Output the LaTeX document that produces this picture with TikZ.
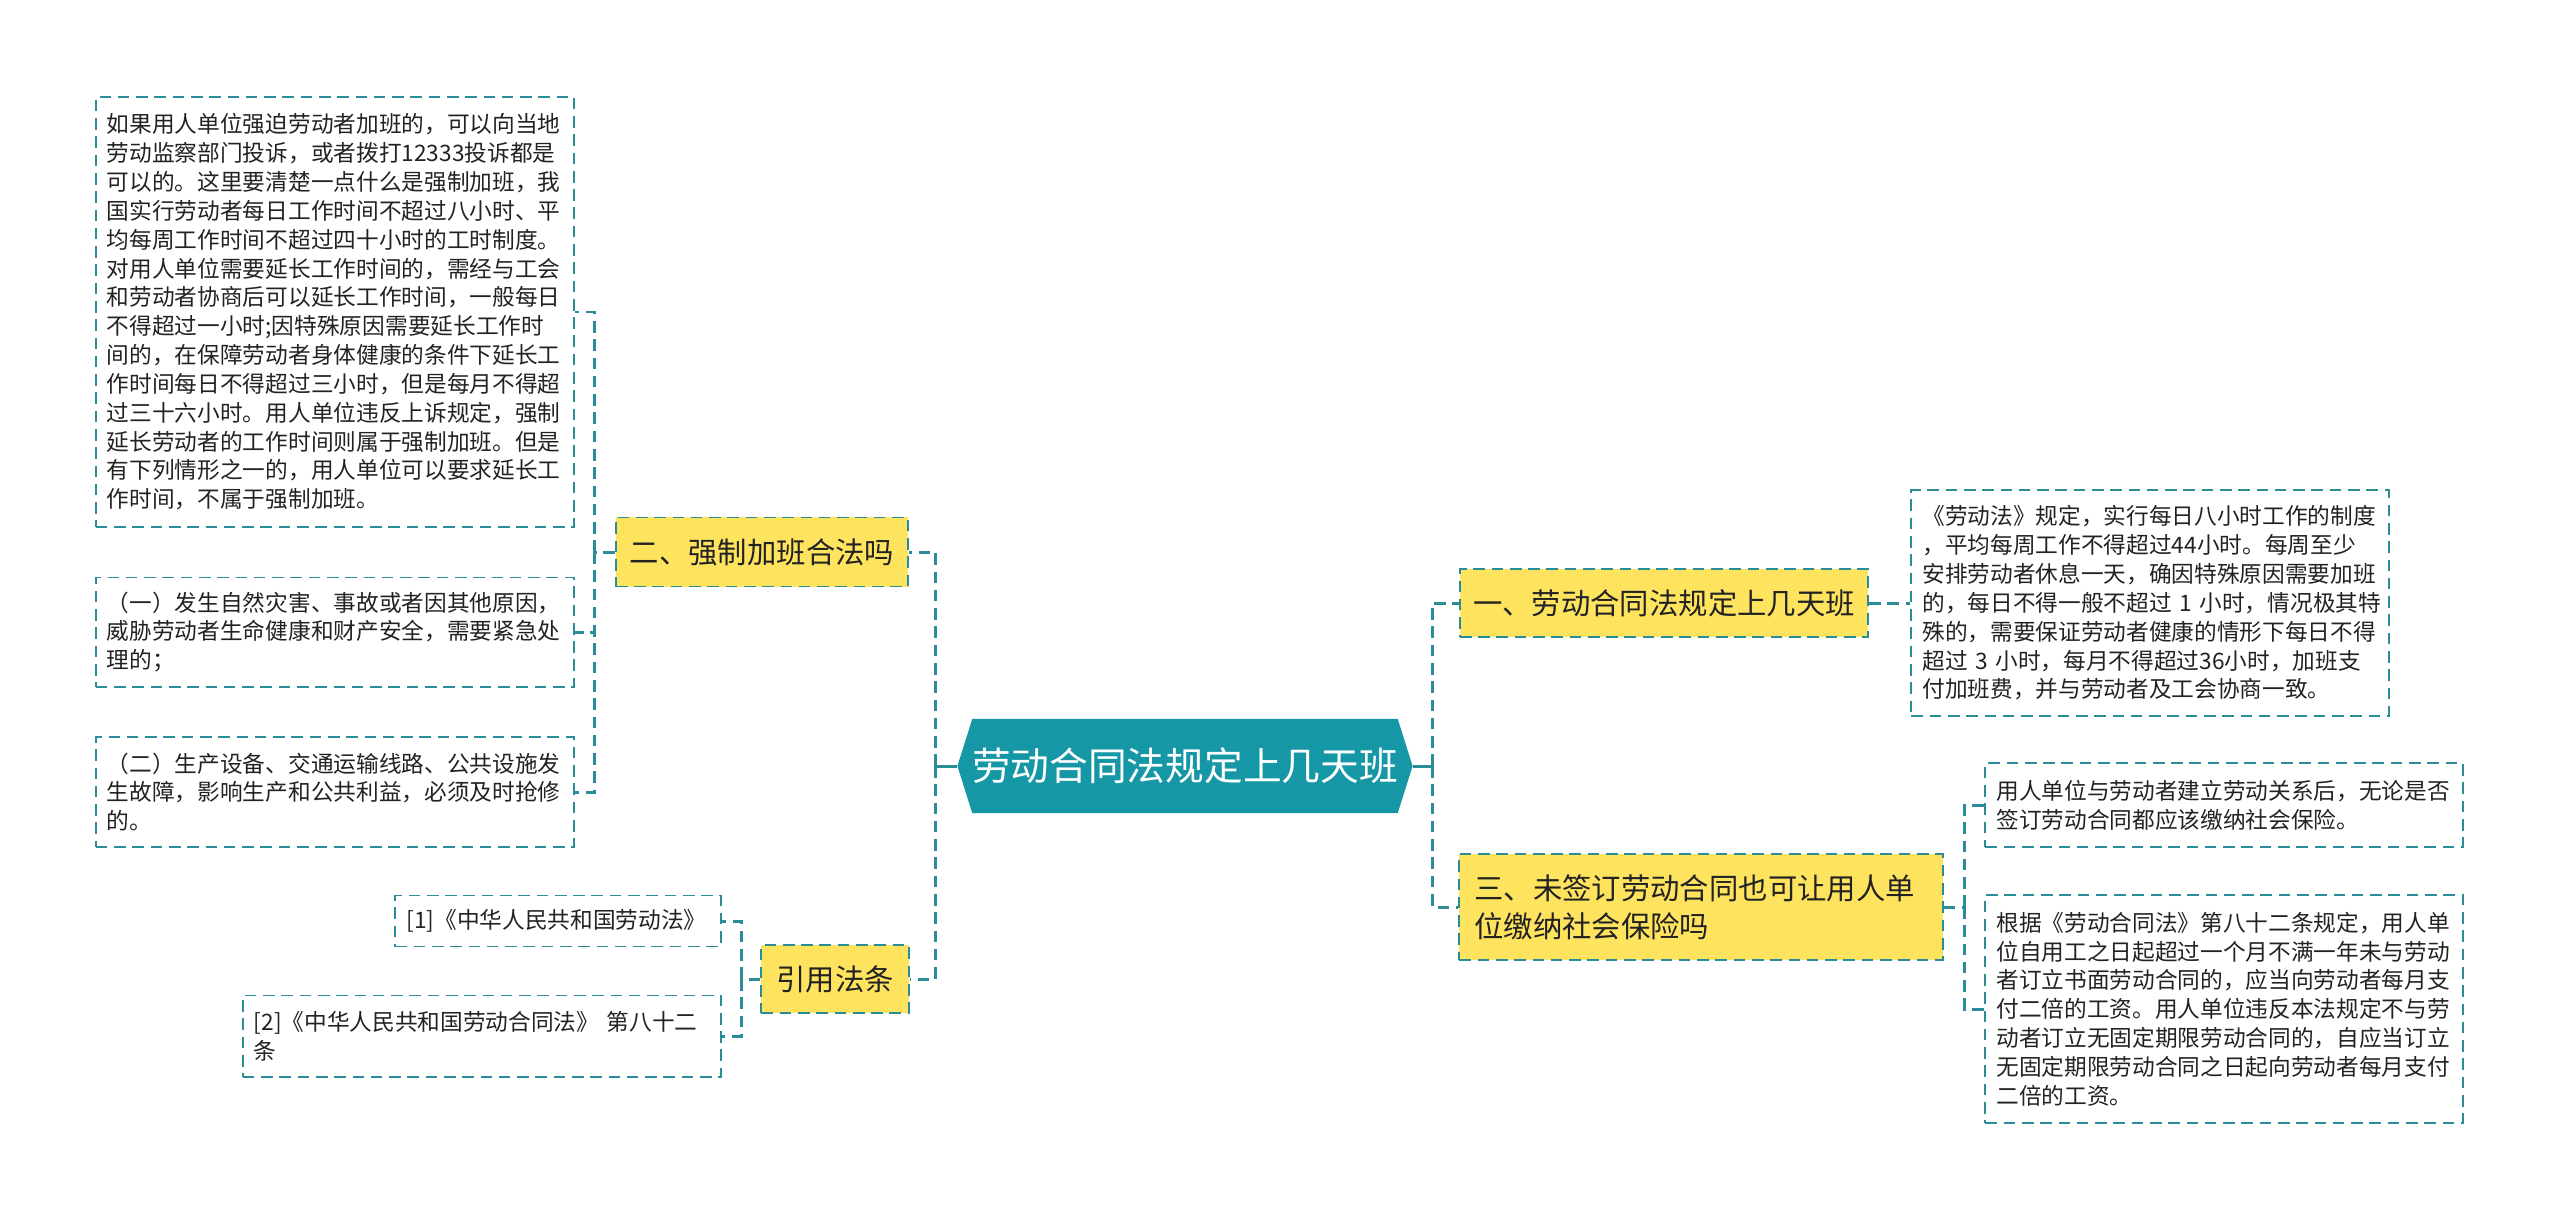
\documentclass[tikz,border=0pt]{standalone}
\usepackage{fontspec}
\setmainfont{Noto Sans CJK SC}
\usetikzlibrary{shapes.symbols}

\definecolor{rootteal}{HTML}{1597A5}
\definecolor{linkteal}{HTML}{2A8C97}
\definecolor{topicyellow}{HTML}{FDE35E}
\definecolor{inktext}{HTML}{222222}

\newcommand{\leaffont}{\fontsize{6.45}{8.2}\selectfont}
\newcommand{\topicfont}{\fontsize{8.35}{10.8}\selectfont}
\newcommand{\hubfont}{\fontsize{11}{13}\selectfont}

\tikzset{
    box/.style={draw=linkteal, line width=0.55pt, dash pattern=on 3.3pt off 1.9pt, text=inktext},
    leaf/.style={box, align=left, inner xsep=0.11cm, inner ysep=0pt, font=\leaffont},
    topic/.style={box, fill=topicyellow, inner xsep=0.12cm, inner ysep=0pt, font=\topicfont},
    hub/.style={signal, signal to=west and east, signal pointer angle=145, fill=rootteal,
        text=white, font=\hubfont, inner sep=0pt},
    link/.style={draw=linkteal, line width=0.85pt, dash pattern=on 3.3pt off 1.9pt},
}

\begin{document}
\begin{tikzpicture}[x=0.01cm, y=-0.01cm]
    \useasboundingbox (0, 0) rectangle (2560, 1221);

    \node[hub, minimum width=4.4cm, minimum height=0.94cm] (root) at (1185, 766) {劳动合同法规定上几天班};

    % left side
    \node[topic, minimum width=2.92cm, minimum height=0.69cm] (b2) at (762, 552) {二、强制加班合法吗};
    \node[topic, minimum width=1.47cm, minimum height=0.68cm] (b4) at (835, 979) {引用法条};

    \node[leaf, text width=4.56cm, minimum height=4.30cm] (tA) at (335, 312) {如果用人单位强迫劳动者加班的，可以向当地\\劳动监察部门投诉，或者拨打12333投诉都是\\可以的。这里要清楚一点什么是强制加班，我\\国实行劳动者每日工作时间不超过八小时、平\\均每周工作时间不超过四十小时的工时制度。\\对用人单位需要延长工作时间的，需经与工会\\和劳动者协商后可以延长工作时间，一般每日\\不得超过一小时;因特殊原因需要延长工作时\\间的，在保障劳动者身体健康的条件下延长工\\作时间每日不得超过三小时，但是每月不得超\\过三十六小时。用人单位违反上诉规定，强制\\延长劳动者的工作时间则属于强制加班。但是\\有下列情形之一的，用人单位可以要求延长工\\作时间，不属于强制加班。};
    \node[leaf, text width=4.56cm, minimum height=1.09cm] (tB) at (335, 632) {（一）发生自然灾害、事故或者因其他原因，\\威胁劳动者生命健康和财产安全，需要紧急处\\理的；};
    \node[leaf, text width=4.56cm, minimum height=1.10cm] (tC) at (335, 792) {（二）生产设备、交通运输线路、公共设施发\\生故障，影响生产和公共利益，必须及时抢修\\的。};

    \node[leaf, text width=3.03cm, minimum height=0.51cm] (r1) at (558, 921) {[1]《中华人民共和国劳动法》};
    \node[leaf, text width=4.56cm, minimum height=0.81cm] (r2) at (482, 1036) {[2]《中华人民共和国劳动合同法》~第八十二\\条};

    % right side
    \node[topic, minimum width=4.08cm, minimum height=0.68cm] (b1) at (1664, 603) {一、劳动合同法规定上几天班};
    \node[topic, align=left, text width=4.53cm, inner xsep=0.15cm, minimum height=1.06cm] (b3) at (1701, 907) {三、未签订劳动合同也可让用人单\\位缴纳社会保险吗};

    \node[leaf, text width=4.55cm, minimum height=2.25cm] (t1) at (2150, 603) {《劳动法》规定，实行每日八小时工作的制度\\，平均每周工作不得超过44小时。每周至少\\安排劳动者休息一天，确因特殊原因需要加班\\的，每日不得一般不超过~1~小时，情况极其特\\殊的，需要保证劳动者健康的情形下每日不得\\超过~3~小时，每月不得超过36小时，加班支\\付加班费，并与劳动者及工会协商一致。};
    \node[leaf, text width=4.55cm, minimum height=0.84cm] (t3a) at (2224, 805) {用人单位与劳动者建立劳动关系后，无论是否\\签订劳动合同都应该缴纳社会保险。};
    \node[leaf, text width=4.55cm, minimum height=2.28cm] (t3b) at (2224, 1009) {根据《劳动合同法》第八十二条规定，用人单\\位自用工之日起超过一个月不满一年未与劳动\\者订立书面劳动合同的，应当向劳动者每月支\\付二倍的工资。用人单位违反本法规定不与劳\\动者订立无固定期限劳动合同的，自应当订立\\无固定期限劳动合同之日起向劳动者每月支付\\二倍的工资。};

    % junctions
    \coordinate (jl) at ([xshift=-0.21cm]root.west);
    \coordinate (jr) at ([xshift=0.19cm]root.east);
    \coordinate (j2) at ([xshift=-0.2cm]b2.west);
    \coordinate (j4) at ([xshift=-0.19cm]b4.west);
    \coordinate (j3) at ([xshift=0.21cm]b3.east);

    \draw[linkteal, line width=0.85pt] (root.west) -- (jl) (root.east) -- (jr);
    \draw[link]
        (jl) |- (b2.east)
        (jl) |- (b4.east)
        (jr) |- (b1.west)
        (jr) |- (b3.west)
        (j2) |- (tA.east)
        (j2) |- (tB.east)
        (j2) |- (tC.east)
        (b2.west) -- (j2)
        (j4) |- (r1.east)
        (j4) |- (r2.east)
        (b4.west) -- (j4)
        (b1.east) -- (t1.west)
        (j3) |- (t3a.west)
        (j3) |- (t3b.west)
        (b3.east) -- (j3);
\end{tikzpicture}
\end{document}
